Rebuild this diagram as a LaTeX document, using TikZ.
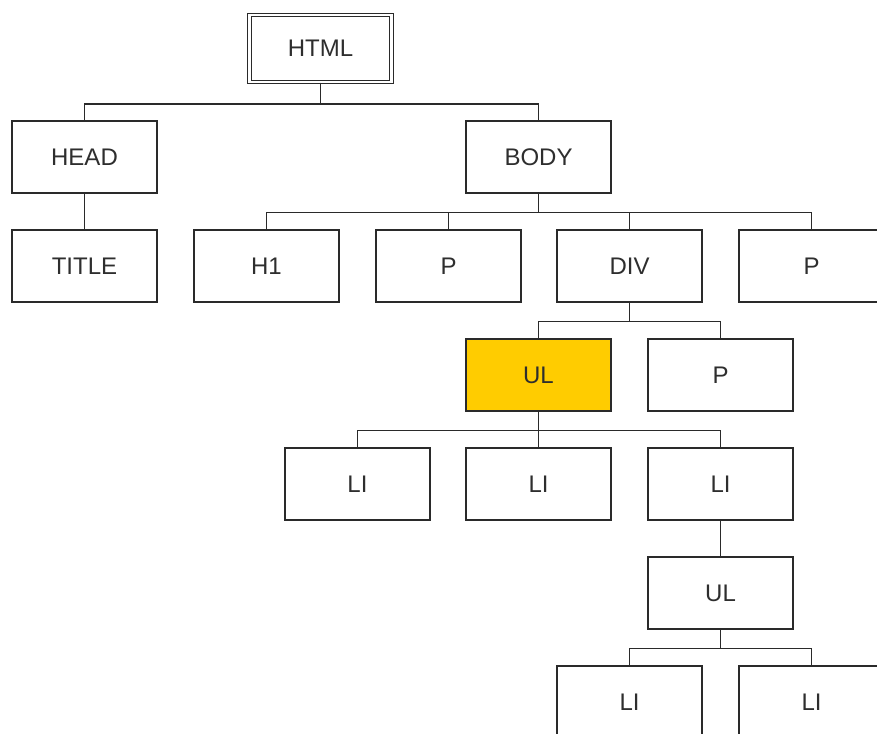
\documentclass[tikz,border=0pt]{standalone}
\usepackage{fontspec}
\setmainfont{Liberation Sans}
\definecolor{linec}{HTML}{2A2A2A}
\definecolor{textc}{HTML}{2E2E2E}
\definecolor{hl}{HTML}{FFCC00}
\begin{document}
\begin{tikzpicture}[x=1pt,y=-1pt,
  box/.style={draw=linec, line width=1.3pt, fill=white, rectangle, minimum width=145pt, minimum height=72pt, inner sep=0pt, text=textc, font=\fontsize{24}{28}\selectfont},
  conn/.style={draw=linec, line width=1.5pt},
  rootbox/.style={box, double=white, double distance=2.6pt, line width=1.1pt, minimum width=142pt, minimum height=67pt},
  hlbox/.style={box, fill=hl}]
\clip (0,0) rectangle (877,733);
\fill[white] (0,0) rectangle (877,733);
\node[rootbox] (html) at (320.5,48.5) {HTML};
\node[box] (head) at (84.5,157) {HEAD};
\node[box] (body) at (538.5,157) {BODY};
\node[box] (title) at (84.5,266) {TITLE};
\node[box] (h1) at (266.5,266) {H1};
\node[box] (p1) at (448.5,266) {P};
\node[box] (div) at (629.5,266) {DIV};
\node[box] (p2) at (811.5,266) {P};
\node[hlbox] (ul1) at (538.5,375) {UL};
\node[box] (p3) at (720.5,375) {P};
\node[box] (li1) at (357.5,484) {LI};
\node[box] (li2) at (538.5,484) {LI};
\node[box] (li3) at (720.5,484) {LI};
\node[box] (ul2) at (720.5,593) {UL};
\node[box] (li4) at (629.5,702) {LI};
\node[box] (li5) at (811.5,702) {LI};
% connectors
\draw[conn] (html.south) -- ++(0,21.5) coordinate (b1);
\draw[conn] (head.north) |- (b1) -| (body.north);
\draw[conn] (head.south) -- (title.north);
\draw[conn] (body.south) -- ++(0,19) coordinate (b2);
\draw[conn] (h1.north) |- (b2) -| (p2.north);
\draw[conn] (p1.north) -- (p1.north |- b2);
\draw[conn] (div.north) -- (div.north |- b2);
\draw[conn] (div.south) -- ++(0,19) coordinate (b3);
\draw[conn] (ul1.north) |- (b3) -| (p3.north);
\draw[conn] (ul1.south) -- ++(0,19) coordinate (b4);
\draw[conn] (li1.north) |- (b4) -| (li3.north);
\draw[conn] (li2.north) -- (b4);
\draw[conn] (li3.south) -- (ul2.north);
\draw[conn] (ul2.south) -- ++(0,19) coordinate (b5);
\draw[conn] (li4.north) |- (b5) -| (li5.north);
\end{tikzpicture}
\end{document}
